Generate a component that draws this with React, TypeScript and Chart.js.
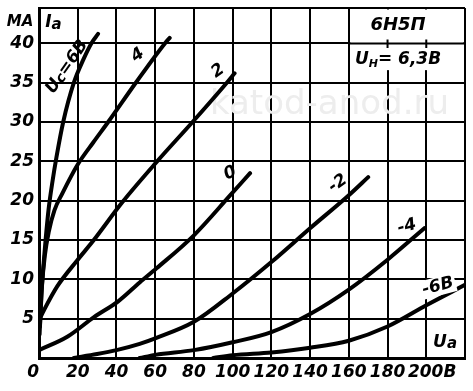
import React, { useEffect, useRef } from 'react';
import { Chart, registerables } from 'chart.js';

Chart.register(...registerables);

// Anode characteristics of 6Н5П: Ia (mA) versus Ua (V), grid voltage Uc as parameter
const uaP6 = [0.3, 1.2, 2.2, 3.4, 5, 7, 9, 12.5, 18, 23, 27, 30.5];
const iaP6 = [3, 8, 11.5, 15, 19, 22.5, 25.5, 30, 35, 38, 40, 41.2];

const uaP4 = [0.5, 1.5, 3, 5, 8, 12, 20, 28, 36, 50, 65, 67.5];
const iaP4 = [4, 9, 13, 16, 18.8, 20.9, 24.6, 27.4, 30.1, 35, 40, 40.7];

const uaP2 = [0, 2.6, 9.4, 19.7, 28, 43, 61, 80, 97, 101];
const iaP2 = [4.8, 6.1, 9.1, 12.4, 14.9, 19.8, 25, 30.2, 35, 36.2];

const ua0 = [0, 14.6, 28.4, 40.9, 52, 60.7, 80, 98.8, 109];
const ia0 = [1.0, 2.7, 5.2, 7.2, 9.6, 11.4, 15.6, 20.7, 23.5];

const uaM2 = [18, 30, 40, 52, 60, 80, 100, 120, 140, 160, 170];
const iaM2 = [0, 0.5, 1.0, 1.8, 2.5, 4.6, 8.2, 12.2, 16.5, 20.7, 23.0];

const uaM4 = [52, 60, 80, 100, 120, 140, 160, 180, 199];
const iaM4 = [0, 0.4, 1.0, 2.0, 3.3, 5.6, 8.7, 12.5, 16.5];

const uaM6 = [90, 100, 120, 140, 160, 180, 200, 220];
const iaM6 = [0, 0.35, 0.7, 1.3, 2.2, 4.0, 6.7, 9.3];

const xTicks = [0, 20, 40, 60, 80, 100, 120, 140, 160, 180, 200, 220];
const xTickLabels = ['0\u2007', '20', '40', '60', '80', '100', '120', '140', '160', '180', '\u2007200В', ''];
const yTicks = [0, 5, 10, 15, 20, 25, 30, 35, 40, 44.5];
const yTickLabels = ['', '5', '10', '15', '20', '25', '30', '35', '40', ''];

const FAMILY = '"DejaVu Sans", sans-serif';

type Run = { t: string; size: number; dy?: number };

function drawRuns(ctx: CanvasRenderingContext2D, runs: Run[], cx: number, cy: number, rot: number, bg = false) {
  ctx.save();
  ctx.translate(cx, cy);
  ctx.rotate((rot * Math.PI) / 180);
  const widths = runs.map((r) => {
    ctx.font = `italic bold ${r.size}px ${FAMILY}`;
    return ctx.measureText(r.t).width;
  });
  const total = widths.reduce((a, b) => a + b, 0);
  const maxSize = Math.max(...runs.map((r) => r.size));
  if (bg) {
    ctx.fillStyle = '#fff';
    ctx.fillRect(-total / 2 - 2, -maxSize * 0.55, total + 4, maxSize * 1.1);
  }
  ctx.fillStyle = '#000';
  ctx.textBaseline = 'middle';
  ctx.textAlign = 'left';
  let x = -total / 2;
  runs.forEach((r, i) => {
    ctx.font = `italic bold ${r.size}px ${FAMILY}`;
    ctx.fillText(r.t, x, r.dy || 0);
    x += widths[i];
  });
  ctx.restore();
}

const labelsPlugin = {
  id: 'tubeLabels',
  beforeDatasetsDraw(chart: any) {
    const { ctx, scales } = chart;
    const xs = scales.x;
    const ys = scales.y;
    ctx.save();
    ctx.font = `34px ${FAMILY}`;
    ctx.fillStyle = '#ededed';
    ctx.textAlign = 'center';
    ctx.textBaseline = 'middle';
    ctx.fillText('katod-anod.ru', xs.getPixelForValue(150), ys.getPixelForValue(32.2));
    ctx.restore();
  },
  afterDraw(chart: any) {
    const { ctx, scales, chartArea } = chart;
    const xs = scales.x;
    const ys = scales.y;
    const X = (v: number) => xs.getPixelForValue(v);
    const Y = (v: number) => ys.getPixelForValue(v);

    // title box in the top right corner
    ctx.save();
    ctx.fillStyle = '#fff';
    const bx0 = X(160) + 1.5;
    const bx1 = X(220) - 1.5;
    const by0 = chartArea.top + 1.5;
    const by1 = Y(36.6);
    ctx.fillRect(bx0, by0, bx1 - bx0, by1 - by0);
    ctx.strokeStyle = '#000';
    ctx.lineWidth = 2;
    ctx.beginPath();
    ctx.moveTo(X(160), Y(40));
    ctx.lineTo(X(220), Y(40));
    [180, 200].forEach((v) => {
      ctx.moveTo(X(v), Y(40.5));
      ctx.lineTo(X(v), Y(39.4));
    });
    ctx.stroke();
    ctx.restore();

    drawRuns(ctx, [{ t: '6Н5П', size: 18 }], X(185.4), Y(42.3), 0);
    drawRuns(ctx, [{ t: 'U', size: 17 }, { t: 'Н', size: 11, dy: 4 }, { t: '= 6,3В', size: 17 }], X(185.4), Y(37.9), 0);

    // axis names
    drawRuns(ctx, [{ t: 'I', size: 17 }, { t: 'a', size: 15, dy: 2 }], X(7.5), Y(42.6), 0);
    drawRuns(ctx, [{ t: 'MA', size: 15 }], chartArea.left - 19, Y(42.7), 0);
    drawRuns(ctx, [{ t: 'U', size: 17 }, { t: 'a', size: 15, dy: 2 }], X(209.7), Y(2), 0);

    // curve labels
    drawRuns(ctx, [{ t: 'U', size: 17 }, { t: 'c', size: 14, dy: 2 }, { t: '=6В', size: 17 }], X(14.5), Y(37), -55);
    drawRuns(ctx, [{ t: '4', size: 17 }], X(51), Y(38.5), -35);
    drawRuns(ctx, [{ t: '2', size: 17 }], X(92.5), Y(36.5), -35);
    drawRuns(ctx, [{ t: '0', size: 17 }], X(98.7), Y(23.5), -25);
    drawRuns(ctx, [{ t: '-2', size: 17 }], X(154.4), Y(22.2), -35);
    drawRuns(ctx, [{ t: '-4', size: 17 }], X(190), Y(16.7), -15);
    drawRuns(ctx, [{ t: '-6В', size: 17 }], X(206), Y(9.1), -15, true);
  },
};

function series(xs: number[], ys: number[]) {
  return xs.map((x, i) => ({ x, y: ys[i] }));
}

export default function App() {
  const ref = useRef<HTMLCanvasElement | null>(null);

  useEffect(() => {
    if (!ref.current) return;
    const tickFont = { family: 'DejaVu Sans', size: 17, style: 'italic' as const, weight: 'bold' as const };
    const curves = [
      series(uaP6, iaP6),
      series(uaP4, iaP4),
      series(uaP2, iaP2),
      series(ua0, ia0),
      series(uaM2, iaM2),
      series(uaM4, iaM4),
      series(uaM6, iaM6),
    ];
    const chart = new Chart(ref.current, {
      type: 'line',
      data: {
        datasets: curves.map((d) => ({
          data: d,
          borderColor: '#000',
          borderWidth: 4,
          pointRadius: 0,
          fill: false,
          cubicInterpolationMode: 'monotone' as const,
          borderCapStyle: 'round' as const,
          borderJoinStyle: 'round' as const,
        })),
      },
      options: {
        responsive: false,
        animation: false,
        events: [],
        layout: { padding: { top: 8, right: 8, left: 0, bottom: 0 } },
        plugins: { legend: { display: false }, tooltip: { enabled: false }, title: { display: false } },
        scales: {
          x: {
            type: 'linear',
            min: 0,
            max: 220,
            afterBuildTicks: (s: any) => {
              s.ticks = xTicks.map((v) => ({ value: v }));
            },
            afterFit: (s: any) => {
              s.height = 33;
              s.paddingLeft = 0;
              s.paddingRight = 0;
            },
            ticks: {
              autoSkip: false,
              maxRotation: 0,
              color: '#000',
              font: tickFont,
              padding: 4,
              callback: (_v: any, i: number) => xTickLabels[i],
            },
            grid: { color: '#000', lineWidth: 2, drawTicks: false },
            border: { color: '#000', width: 3 },
          },
          y: {
            type: 'linear',
            min: 0,
            max: 44.5,
            afterBuildTicks: (s: any) => {
              s.ticks = yTicks.map((v) => ({ value: v }));
            },
            afterFit: (s: any) => {
              s.width = 39;
              s.paddingTop = 0;
              s.paddingBottom = 0;
            },
            ticks: {
              autoSkip: false,
              color: '#000',
              font: tickFont,
              padding: 5,
              callback: (_v: any, i: number) => yTickLabels[i],
            },
            grid: { color: '#000', lineWidth: 2, drawTicks: false },
            border: { color: '#000', width: 3 },
          },
        },
      },
      plugins: [labelsPlugin],
    });
    return () => chart.destroy();
  }, []);

  return (
    <div style={{ position: 'absolute', left: 0, top: 0, width: 473, height: 391, background: '#fff' }}>
      <canvas ref={ref} width={473} height={391} style={{ display: 'block' }} />
    </div>
  );
}
